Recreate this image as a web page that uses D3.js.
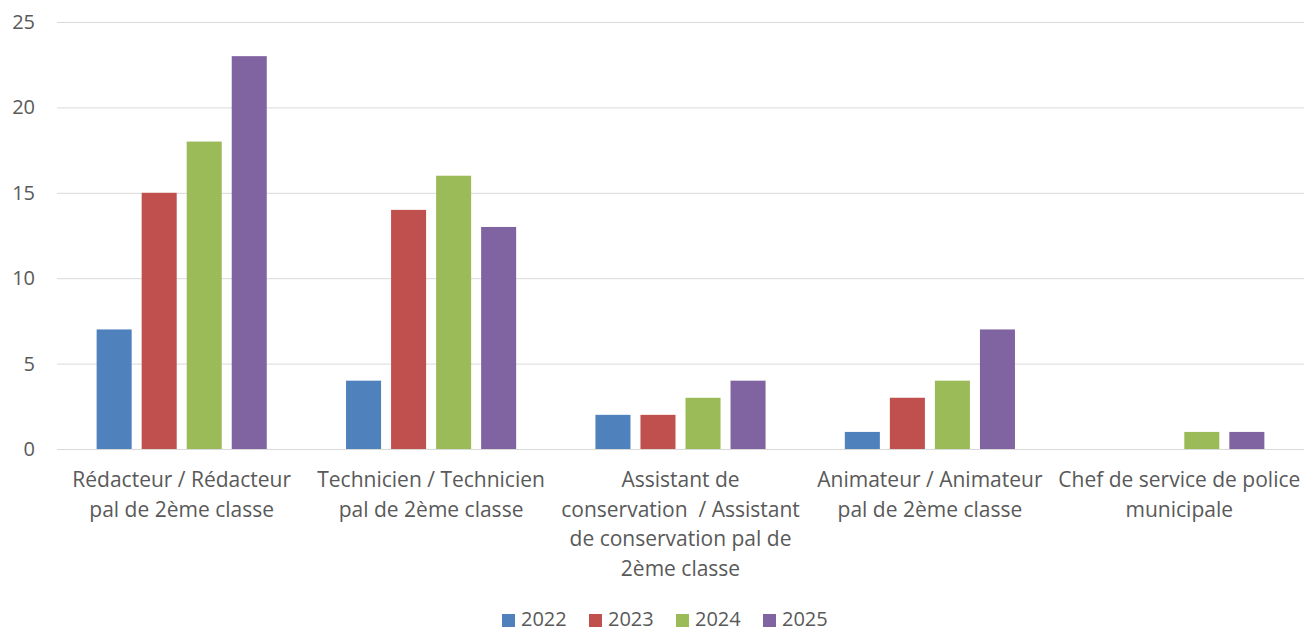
<!DOCTYPE html>
<html lang="fr">
<head>
    <meta charset="UTF-8">
    <title>Grades</title>
    <script src="https://cdnjs.cloudflare.com/ajax/libs/d3/7.8.5/d3.min.js"></script>
    <style>
        body { margin: 0; background: #fff; }
        text { font-family: "Open Sans", "Liberation Sans", sans-serif; fill: #595959; white-space: pre; }
    </style>
</head>
<body>
<div id="chart"></div>
<script>
    const categories = [
        ['Rédacteur / Rédacteur', 'pal de 2ème classe'],
        ['Technicien / Technicien', 'pal de 2ème classe'],
        ['Assistant de', 'conservation  / Assistant', 'de conservation pal de', '2ème classe'],
        ['Animateur / Animateur', 'pal de 2ème classe'],
        ['Chef de service de police', 'municipale']
    ];
    const years = ['2022', '2023', '2024', '2025'];
    const values2022 = [7, 4, 2, 1, 0];
    const values2023 = [15, 14, 2, 3, 0];
    const values2024 = [18, 16, 3, 4, 1];
    const values2025 = [23, 13, 4, 7, 1];
    const yTicks = [0, 5, 10, 15, 20, 25];
    const colors = ['#4F81BD', '#C0504D', '#9BBB59', '#8064A2'];

    const series = [values2022, values2023, values2024, values2025];
    const width = 1314, height = 632;
    const plotLeft = 57, plotRight = 1304, plotTop = 22, plotBottom = 449;

    const svg = d3.select('#chart').append('svg')
        .attr('width', width).attr('height', height);

    const x = d3.scaleBand().domain(d3.range(categories.length)).range([plotLeft, plotRight]);
    const xInner = d3.scaleBand().domain(years).range([0, x.bandwidth()])
        .paddingInner(0.222).paddingOuter(0.88);
    const y = d3.scaleLinear().domain([0, 25]).range([plotBottom, plotTop]);

    // grid
    svg.append('g').selectAll('line').data(yTicks).join('line')
        .attr('x1', plotLeft).attr('x2', plotRight)
        .attr('y1', d => y(d) + 0.5).attr('y2', d => y(d) + 0.5)
        .attr('stroke', '#d9d9d9').attr('stroke-width', 1);

    svg.append('g').selectAll('text').data(yTicks).join('text')
        .attr('x', 35).attr('y', d => y(d))
        .attr('dy', '0.35em').attr('text-anchor', 'end')
        .style('font-size', '20px')
        .text(d => d);

    // bars
    years.forEach((yr, si) => {
        svg.append('g').selectAll('rect').data(series[si]).join('rect')
            .attr('x', (d, i) => x(i) + xInner(yr))
            .attr('width', xInner.bandwidth())
            .attr('y', d => y(d))
            .attr('height', d => y(0) - y(d))
            .attr('fill', colors[si]);
    });

    // category labels
    const lab = svg.append('g').selectAll('text').data(categories).join('text')
        .attr('text-anchor', 'middle')
        .style('font-size', '21px');
    lab.each(function (lines, i) {
        d3.select(this).selectAll('tspan').data(lines).join('tspan')
            .attr('x', x(i) + x.bandwidth() / 2)
            .attr('y', (d, j) => 487 + j * 29.5)
            .text(d => d);
    });

    // legend
    const legend = svg.append('g');
    years.forEach((yr, i) => {
        const lx = 502 + i * 87;
        legend.append('rect').attr('x', lx).attr('y', 614).attr('width', 13).attr('height', 13)
            .attr('fill', colors[i]);
        legend.append('text').attr('x', lx + 19).attr('y', 619).attr('dy', '0.35em')
            .style('font-size', '20px').text(yr);
    });
</script>
</body>
</html>
